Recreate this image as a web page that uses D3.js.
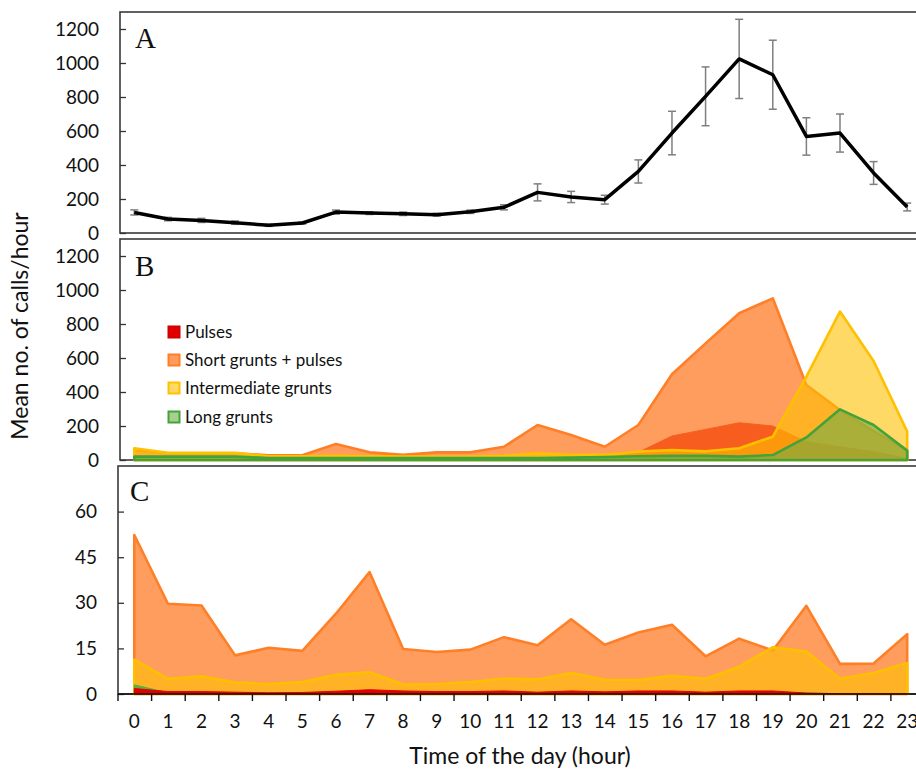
<!DOCTYPE html>
<html>
<head>
<meta charset="utf-8">
<script src="https://cdn.jsdelivr.net/npm/d3@7"></script>
<style>
  html, body { margin: 0; padding: 0; background: #fff; }
  svg { display: block; }
  text { font-family: Lato, "Open Sans", sans-serif; fill: #111; }
</style>
</head>
<body>
<svg id="chart" width="916" height="770"></svg>
<script>
// ---------- DATA ----------
const hours = ["0","1","2","3","4","5","6","7","8","9","10","11","12","13","14","15","16","17","18","19","20","21","22","23"];

// Panel A: total calls per hour (mean) and error
const totalCalls = [121, 82, 74, 61, 45, 59, 123, 117, 113, 108, 125, 151, 239, 212, 196, 362, 588, 804, 1024, 931, 568, 588, 353, 153];
const totalErr   = [15, 10, 12, 10, 6, 6, 12, 8, 10, 8, 10, 15, 50, 33, 26, 68, 128, 173, 233, 203, 110, 112, 67, 23];

// Panel B
const pulsesB = [5, 5, 5, 5, 4, 4, 5, 5, 5, 5, 5, 5, 6, 6, 10, 45, 141, 180, 219, 200, 108, 78, 49, 10];
const shortB  = [60, 40, 40, 40, 28, 28, 94, 45, 30, 45, 45, 78, 206, 147, 78, 206, 504, 686, 863, 951, 441, 294, 170, 55];
const interB  = [69, 42, 42, 42, 22, 22, 25, 22, 20, 20, 20, 25, 39, 30, 30, 49, 59, 51, 69, 137, 490, 873, 582, 167];
const longB   = [20, 20, 20, 20, 12, 12, 12, 12, 12, 12, 12, 12, 12, 15, 18, 22, 24, 24, 20, 29, 133, 298, 206, 55];

// Panel C
const pulsesC = [1.8, 0.8, 0.8, 0.6, 0.4, 0.5, 0.9, 1.4, 1.0, 0.8, 0.8, 1.0, 0.6, 1.0, 0.7, 1.0, 1.0, 0.6, 1.0, 1.0, 0.3, 0.1, 0.1, 0.1];
const shortC  = [52.3, 29.7, 29.1, 12.7, 15.2, 14.2, 26.4, 40.1, 14.8, 13.8, 14.6, 18.7, 16.0, 24.6, 16.2, 20.2, 22.8, 12.4, 18.2, 14.3, 29.0, 9.9, 10.0, 19.7];
const interC  = [11.3, 5.0, 5.8, 3.8, 3.3, 3.9, 6.3, 7.2, 3.1, 3.3, 3.9, 5.0, 4.8, 6.9, 4.7, 4.6, 6.0, 5.0, 8.9, 15.4, 14.0, 5.0, 6.9, 10.2];
const longC   = [3.0, 0.4, 0.3, 0.2, 0.2, 0.3, 0.2, 0.2, 0.2, 0.2, 0.2, 0.2, 0.2, 0.2, 0.2, 0.2, 0.2, 0.2, 0.2, 0.2, 0.3, 0.1, 0.1, 0.1];

const ticksAB = [0, 200, 400, 600, 800, 1000, 1200];
const ticksC  = [0, 15, 30, 45, 60];
const legendLabels = ["Pulses", "Short grunts + pulses", "Intermediate grunts", "Long grunts"];
const panelLetters = ["A", "B", "C"];

// ---------- STYLES ----------
const col = {
  short:  { fill: "#ff7c28", stroke: "#ff7f27", op: 0.75 },
  inter:  { fill: "#ffc000", stroke: "#ffc000", op: 0.6 },
  long:   { fill: "#70ad47", stroke: "#43a33b", op: 0.6 }
};

const svg = d3.select("#chart");

const x = d3.scaleBand().domain(hours).range([117.5, 924]).paddingInner(0).paddingOuter(0);
const xEdge = d3.scaleLinear().domain([0, 24]).range([117.5, 924]);
const cx = h => x(h) + x.bandwidth() / 2;

const panels = [
  { top: 12,  bottom: 233, left: 120, max: 1300, ticks: ticksAB },
  { top: 239, bottom: 460, left: 120, max: 1300, ticks: ticksAB },
  { top: 466, bottom: 694, left: 118, max: 75,   ticks: ticksC }
];
panels.forEach(p => {
  p.y = d3.scaleLinear().domain([0, p.max]).range([p.bottom, p.top]);
});

function drawBox(p) {
  svg.append("rect")
    .attr("x", p.left).attr("y", p.top)
    .attr("width", 930 - p.left).attr("height", p.bottom - p.top)
    .attr("fill", "none").attr("stroke", "#3a3a3a").attr("stroke-width", 1.6);
}

function drawYAxis(p) {
  const g = svg.append("g").attr("transform", `translate(${p.left},0)`)
    .call(d3.axisLeft(p.y).tickValues(p.ticks).tickFormat(d3.format("d"))
      .tickSizeInner(-6).tickSizeOuter(0).tickPadding(21));
  g.select(".domain").remove();
  g.selectAll(".tick line").attr("stroke", "#333").attr("stroke-width", 1.3);
  g.selectAll(".tick text").style("font-family", "Lato, sans-serif").style("font-size", "19px").attr("fill", "#111");
}

function drawArea(p, data, c, sw) {
  const area = d3.area()
    .x((d, i) => cx(hours[i]))
    .y0(p.y(0))
    .y1(d => p.y(d));
  svg.append("path")
    .attr("d", area(data))
    .attr("fill", c.fill).attr("fill-opacity", c.op)
    .attr("stroke", c.stroke).attr("stroke-width", sw).attr("stroke-linejoin", "round");
}

// ---------- PANEL A ----------
const pA = panels[0];
drawBox(pA);
drawYAxis(pA);
const errG = svg.append("g");
totalCalls.forEach((v, i) => {
  const xx = cx(hours[i]);
  const e = totalErr[i];
  errG.append("line").attr("x1", xx).attr("x2", xx)
    .attr("y1", pA.y(v - e)).attr("y2", pA.y(v + e))
    .attr("stroke", "#7f7f7f").attr("stroke-width", 1.5);
  [v - e, v + e].forEach(yy => {
    errG.append("line").attr("x1", xx - 4).attr("x2", xx + 4)
      .attr("y1", pA.y(yy)).attr("y2", pA.y(yy))
      .attr("stroke", "#7f7f7f").attr("stroke-width", 1.5);
  });
});
svg.append("path")
  .attr("d", d3.line().x((d, i) => cx(hours[i])).y(d => pA.y(d))(totalCalls))
  .attr("fill", "none").attr("stroke", "#000").attr("stroke-width", 3.5).attr("stroke-linejoin", "round");

// ---------- PANEL B ----------
const pB = panels[1];
drawBox(pB);
drawYAxis(pB);
drawArea(pB, pulsesB, { fill: "#e00000", stroke: "#e00000", op: 1 }, 1);
drawArea(pB, shortB, col.short, 2.6);
drawArea(pB, interB, col.inter, 2.6);
drawArea(pB, longB, col.long, 2.6);

// legend
const legStyles = [
  { fill: "#e00000", stroke: "#d00000" },
  { fill: "#ff9d5e", stroke: "#ff7f27" },
  { fill: "#ffd966", stroke: "#ffc000" },
  { fill: "#a9ce91", stroke: "#43a33b" }
];
const legY = [332, 360, 388, 417];
legendLabels.forEach((lab, i) => {
  svg.append("rect").attr("x", 168.5).attr("y", legY[i] - 5.5).attr("width", 11).attr("height", 11)
    .attr("fill", legStyles[i].fill).attr("stroke", legStyles[i].stroke).attr("stroke-width", 2);
  svg.append("text").attr("x", 185).attr("y", legY[i]).attr("dy", "0.36em")
    .style("font-size", "17px").text(lab);
});

// ---------- PANEL C ----------
const pC = panels[2];
drawBox(pC);
drawYAxis(pC);
drawArea(pC, shortC, col.short, 2.6);
drawArea(pC, interC, col.inter, 2.6);
drawArea(pC, longC, { fill: "#4caf3c", stroke: "#4caf3c", op: 0.9 }, 1);
drawArea(pC, pulsesC, { fill: "#e00000", stroke: "#e00000", op: 1 }, 1);

// x-axis (bottom of panel C)
svg.append("line").attr("x1", pC.left).attr("x2", 916).attr("y1", pC.bottom).attr("y2", pC.bottom)
  .attr("stroke", "#111").attr("stroke-width", 1.6);
const xt = svg.append("g").attr("transform", `translate(0,${pC.bottom})`)
  .call(d3.axisBottom(xEdge).tickValues(d3.range(25)).tickFormat("").tickSizeInner(7).tickSizeOuter(0));
xt.select(".domain").remove();
xt.selectAll(".tick line").attr("stroke", "#111").attr("stroke-width", 1.4);
const xl = svg.append("g").attr("transform", `translate(0,${pC.bottom})`)
  .call(d3.axisBottom(x).tickSize(0).tickPadding(21));
xl.select(".domain").remove();
xl.selectAll(".tick text").style("font-family", "Lato, sans-serif").style("font-size", "19px").attr("fill", "#111");

// panel letters
const letterPos = [[135, 48], [135, 276], [130, 501]];
panelLetters.forEach((L, i) => {
  svg.append("text").attr("x", letterPos[i][0]).attr("y", letterPos[i][1])
    .style("font-family", "'Liberation Serif', 'Times New Roman', serif").style("font-size", "29px")
    .text(L);
});

// axis titles
svg.append("text").attr("x", 520).attr("y", 764).attr("text-anchor", "middle")
  .style("font-size", "23px").text("Time of the day (hour)");
svg.append("text").attr("transform", "translate(28,326) rotate(-90)").attr("text-anchor", "middle")
  .style("font-size", "23px").text("Mean no. of calls/hour");
</script>
</body>
</html>
